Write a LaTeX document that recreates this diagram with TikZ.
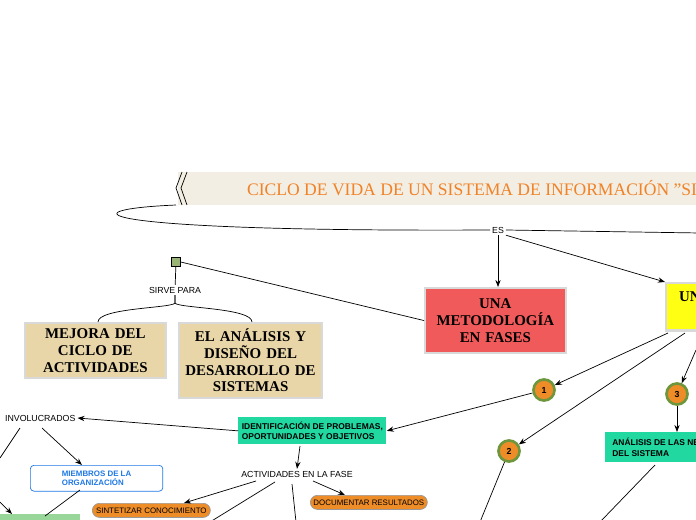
\documentclass[tikz,border=0pt]{standalone}
\usepackage{fontspec}
\setmainfont{Liberation Serif}
\setsansfont{Liberation Sans}
\usetikzlibrary{positioning,calc,arrows.meta}
\definecolor{mybeige}{RGB}{243,238,227}
\definecolor{mytitle}{RGB}{240,130,40}
\definecolor{myred}{RGB}{240,90,90}
\definecolor{myyellow}{RGB}{255,255,20}
\definecolor{mytan}{RGB}{232,213,168}
\definecolor{myteal}{RGB}{32,216,160}
\definecolor{myorange}{RGB}{238,140,40}
\definecolor{mygreen}{RGB}{110,150,60}
\definecolor{myblue}{RGB}{30,120,230}

\begin{document}
\begin{tikzpicture}[x=0.02cm,y=-0.02cm,
  every node/.style={inner sep=1pt},
  bigbox/.style={draw=black!15,line width=1.2pt,font=\bfseries\fontsize{8.5}{9.5}\selectfont,align=center,anchor=north west,inner sep=3pt},
  tealbox/.style={fill=myteal,font=\sffamily\fontsize{4.8}{6}\selectfont\bfseries,align=left,anchor=north west,inner sep=2pt},
  word/.style={font=\sffamily\fontsize{5}{6}\selectfont},
  phase/.style={circle,fill=myorange,draw=mygreen,line width=1.5pt,minimum size=12pt,inner sep=0pt,font=\sffamily\fontsize{5}{6}\selectfont\bfseries},
  pill/.style={rounded corners=4pt,fill=myorange,draw=black!40,font=\sffamily\fontsize{4.5}{5}\selectfont,minimum height=8pt,anchor=north west},
  >={Stealth[length=4pt]}
]
\useasboundingbox (0,0) rectangle (696,520);
\clip (0,0) rectangle (696,520);

% the title
\fill[mybeige] (178,172) rectangle (700,205);
\draw (182,172) -- (176,188) -- (182,205) (187,172) -- (181,188) -- (187,205);
\node[anchor=west,text=mytitle,font=\fontsize{10}{12}\selectfont] (title) at (245,188) {CICLO DE VIDA DE UN SISTEMA DE INFORMACIÓN "SISTEMA"};
\coordinate (tl) at (176,205);

% the link word
\node[word] (es) at (498,230) {ES};
\draw (tl) .. controls (60,210) and (90,232) .. (es.west);
\draw (es.east) -- (700,233);

% the boxes
\node[bigbox,fill=myred,text width=2.6cm,minimum height=1.3cm] (fases) at (424,287) {UNA\\METODOLOGÍA\\EN FASES};
\node[bigbox,fill=myyellow,minimum width=1.4cm,minimum height=0.95cm] (uno) at (665,282) {};
\node[anchor=west,font=\bfseries\fontsize{8.5}{9.5}\selectfont] at (677,297) {UNA};
\draw[->] (es.south) -- (es.south |- fases.north);
\draw[->] (es.south east) -- (uno.north west);

% the icon
\node[draw,fill=mygreen!70,minimum size=5pt,inner sep=0pt] (icon) at (176,262) {};
\draw (fases.west) -- (icon.east);
\node[word] (sirve) at (175,290) {SIRVE PARA};
\draw (icon) -- (sirve);
\node[bigbox,fill=mytan,text width=2.6cm,minimum height=1.1cm] (mejora) at (24,322) {MEJORA DEL\\CICLO DE\\ACTIVIDADES};
\node[bigbox,fill=mytan,text width=2.65cm,minimum height=1.5cm] (diseno) at (178,322) {EL ANÁLISIS Y\\DISEÑO DEL\\DESARROLLO DE\\SISTEMAS};
\draw (sirve.south) -- ++(0,8) .. controls ++(-5,5) and (98,308) .. (98,322);
\draw (sirve.south) -- ++(0,8) .. controls ++(5,5) and (252,308) .. (252,322);

% the phases
\node[phase] (p1) at (544,390) {1};
\node[phase] (p2) at (509,451) {2};
\node[phase] (p3) at (677,394) {3};
\draw[->] (668,333) -- (p1);
\draw[->] (685,333) -- (p2);
\draw[->] (696,350) -- (p3);

\node[tealbox,minimum height=0.54cm,minimum width=2.6cm] (ident) at (238,417) {IDENTIFICACIÓN DE PROBLEMAS,\\OPORTUNIDADES Y OBJETIVOS};
\draw[->] (p1) -- (ident.east);
\node[tealbox,minimum height=0.6cm,minimum width=3cm] (analisis) at (605,432) {ANÁLISIS DE LAS NECESIDADES\\DEL SISTEMA};
\draw[->] (p3) -- (analisis.north -| p3);
\draw (655,465) -- (600,522);
\draw (p2) -- (480,522);

\node[word,anchor=west] (invol) at (3,418) {INVOLUCRADOS};
\draw[->] (ident.west) -- (invol.east);
\node[draw=myblue,rounded corners=2pt,fill=white,text=myblue,font=\sffamily\fontsize{4.5}{5.5}\selectfont\bfseries,align=left,minimum width=2.65cm,anchor=north west,inner sep=3pt] (miembros) at (30,465) {MIEMBROS DE LA\\ORGANIZACIÓN};
\draw[->] (42,428) -- (82,465);
\draw (20,428) -- (0,458);
\node[fill=green!60!black!40,minimum width=1.6cm,minimum height=0.2cm,anchor=north west] (verde) at (0,514) {};
\draw (80,490) -- (45,516);
\draw[->] (0,502) -- (12,514);

\node[word] (activ) at (297,474) {ACTIVIDADES EN LA FASE};
\draw[->] (300,446) -- (activ.north);
\node[pill,minimum width=2.36cm] (sintet) at (92,503) {SINTETIZAR CONOCIMIENTO};
\node[pill,minimum width=2.34cm] (docu) at (310,495) {DOCUMENTAR RESULTADOS};
\draw[->] (256,481) -- (184,503);
\draw[->] (313,481) -- (345,495);
\draw (275,482) -- (210,522);
\draw (292,484) -- (296,522);
\end{tikzpicture}
\end{document}
